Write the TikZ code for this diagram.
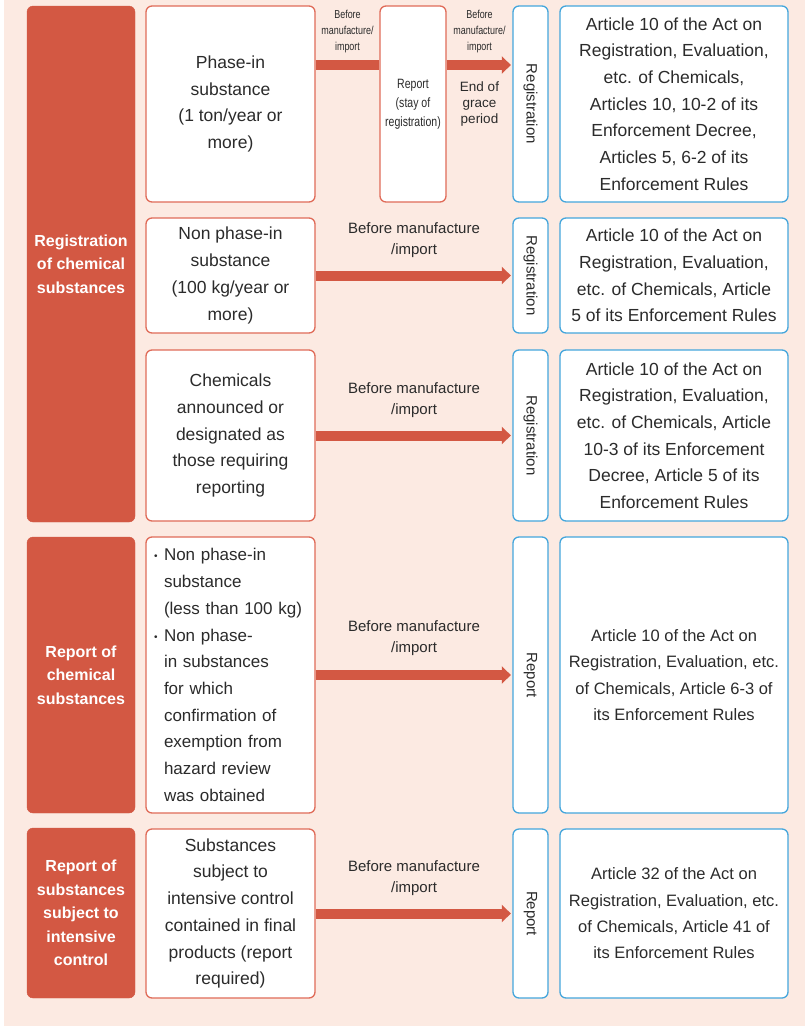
\documentclass[tikz,border=0pt]{standalone}
\usepackage{fontspec}
\setmainfont{Liberation Sans}
\newfontfamily\condfont[FakeStretch=0.78]{Liberation Sans}
\usetikzlibrary{arrows.meta,calc}
\definecolor{bgpeach}{HTML}{FCEAE2}
\definecolor{catred}{HTML}{D35843}
\definecolor{boxred}{HTML}{E06B58}
\definecolor{boxblue}{HTML}{45A6DC}
\definecolor{txt}{HTML}{2B2B2B}
\tikzset{
  catbox/.style={fill=catred, draw=catred, rounded corners=6pt, text=white,
    font=\fontsize{16}{23.5}\selectfont\bfseries, align=center, inner sep=0pt,
    minimum width=108pt},
  subbox/.style={fill=white, draw=boxred, line width=1.3pt, rounded corners=6pt,
    text=txt, font=\fontsize{17.5}{26.7}\selectfont, align=center, inner sep=0pt},
  vbox/.style={fill=white, draw=boxblue, line width=1.3pt, rounded corners=6pt,
    minimum width=35pt, inner sep=0pt},
  vtext/.style={text=txt, font=\fontsize{15}{18}\selectfont, rotate=-90, inner sep=0pt},
  lawbox/.style={fill=white, draw=boxblue, line width=1.3pt, rounded corners=6pt,
    text=txt, font=\fontsize{17.5}{26.7}\selectfont, align=center, inner sep=0pt,
    minimum width=228pt},
  flow/.style={draw=catred, line width=10pt, -{Triangle[length=9pt,width=17pt]}},
  bar/.style={draw=catred, line width=10pt},
  arrlabel/.style={text=txt, font=\fontsize{15}{21}\selectfont, align=center, inner sep=0pt},
  smalllabel/.style={text=txt, font=\condfont\fontsize{11.5}{16}\selectfont, align=center, inner sep=0pt},
}
\begin{document}
\begin{tikzpicture}[x=1pt,y=-1pt]
\useasboundingbox (0,0) rectangle (805,1026);
\fill[bgpeach] (4,0) rectangle (805,1026);

% category boxes
\node[catbox, minimum height=516pt] (L1) at (81,264) {Registration\\of chemical\\substances};
\node[catbox, minimum height=276pt] (L2) at (81,675) {Report of\\chemical\\substances};
\node[catbox, minimum height=170pt] (L3) at (81,913) {Report of\\substances\\subject to\\intensive\\control};

% substance boxes
\node[subbox, minimum width=169pt, minimum height=196pt] (M1a) at (230.5,104) {Phase-in\\substance\\(1 ton/year or\\more)};
\node[subbox, minimum width=169pt, minimum height=115pt] (M1b) at (230.5,275.5) {Non phase-in\\substance\\(100 kg/year or\\more)};
\node[subbox, minimum width=169pt, minimum height=171pt] (M1c) at (230.5,435.5) {Chemicals\\announced or\\designated as\\those requiring\\reporting};
\node[subbox, align=left, text width=161pt, inner xsep=4pt, minimum height=276pt,
      font=\fontsize{17}{26.7}\selectfont] (M2) at (230.5,675)
  {\hspace*{4pt}\makebox[10pt][l]{\raisebox{1pt}{\fontsize{10}{10}\selectfont•}}Non phase-in\\
   \hspace*{14pt}substance\\
   \hspace*{14pt}(less than 100 kg)\\
   \hspace*{4pt}\makebox[10pt][l]{\raisebox{1pt}{\fontsize{10}{10}\selectfont•}}Non phase-\\
   \hspace*{14pt}in substances\\
   \hspace*{14pt}for which\\
   \hspace*{14pt}confirmation of\\
   \hspace*{14pt}exemption from\\
   \hspace*{14pt}hazard review\\
   \hspace*{14pt}was obtained};
\node[subbox, minimum width=169pt, minimum height=169pt] (M3) at (230.5,913.5) {Substances\\subject to\\intensive control\\contained in final\\products (report\\required)};

% report (stay) box
\node[subbox, minimum width=66pt, minimum height=196pt, font=\condfont\fontsize{13.5}{19}\selectfont] (Rp) at (413,104) {Report\\(stay of\\registration)};

% vertical boxes
\node[vbox, minimum height=196pt] (V1a) at (530.5,104) {};
\node[vbox, minimum height=115pt] (V1b) at (530.5,275.5) {};
\node[vbox, minimum height=171pt] (V1c) at (530.5,435.5) {};
\node[vbox, minimum height=276pt] (V2) at (530.5,675) {};
\node[vbox, minimum height=169pt] (V3) at (530.5,913.5) {};
\node[vtext] (T1a) at (V1a) {Registration};
\node[vtext] (T1b) at (V1b) {Registration};
\node[vtext] (T1c) at (V1c) {Registration};
\node[vtext] (T2) at (V2) {Report};
\node[vtext] (T3) at (V3) {Report};

% law boxes
\node[lawbox, minimum height=196pt] (R1a) at (674,104) {Article 10 of the Act on\\Registration, Evaluation,\\etc. of Chemicals,\\Articles 10, 10-2 of its\\Enforcement Decree,\\Articles 5, 6-2 of its\\Enforcement Rules};
\node[lawbox, minimum height=115pt] (R1b) at (674,275.5) {Article 10 of the Act on\\Registration, Evaluation,\\etc. of Chemicals, Article\\5 of its Enforcement Rules};
\node[lawbox, minimum height=171pt] (R1c) at (674,435.5) {Article 10 of the Act on\\Registration, Evaluation,\\etc. of Chemicals, Article\\10-3 of its Enforcement\\Decree, Article 5 of its\\Enforcement Rules};
\node[lawbox, minimum height=276pt, font=\fontsize{16.5}{26.3}\selectfont] (R2) at (674,675) {Article 10 of the Act on\\Registration, Evaluation, etc.\\of Chemicals, Article 6-3 of\\its Enforcement Rules};
\node[lawbox, minimum height=169pt, font=\fontsize{16.5}{26.3}\selectfont] (R3) at (674,913.5) {Article 32 of the Act on\\Registration, Evaluation, etc.\\of Chemicals, Article 41 of\\its Enforcement Rules};

% arrows
\coordinate (ay) at (0,65);
\draw[bar] (M1a.east |- ay) -- node[smalllabel, pos=0.5, yshift=33pt] (B1) {Before\\manufacture/\\import} (Rp.west |- ay);
\draw[flow, shorten >=1.5pt] (Rp.east |- ay) -- node[smalllabel, pos=0.5, yshift=33pt] (B2) {Before\\manufacture/\\import}
  node[pos=0.5, yshift=-39pt, text=txt, font=\fontsize{13.5}{16}\selectfont, align=center, inner sep=0pt] (EG) {End of\\grace\\period} (V1a.west |- ay);
\draw[flow, shorten >=1.5pt] (M1b.east) -- node[arrlabel, yshift=35pt] (A1b) {Before manufacture\\/import} (V1b.west);
\draw[flow, shorten >=1.5pt] (M1c.east) -- node[arrlabel, yshift=35pt] (A1c) {Before manufacture\\/import} (V1c.west);
\draw[flow, shorten >=1.5pt] (M2.east) -- node[arrlabel, yshift=37pt] (A2) {Before manufacture\\/import} (V2.west);
\draw[flow, shorten >=1.5pt] (M3.east) -- node[arrlabel, yshift=35pt] (A3) {Before manufacture\\/import} (V3.west);
\end{tikzpicture}
\end{document}
